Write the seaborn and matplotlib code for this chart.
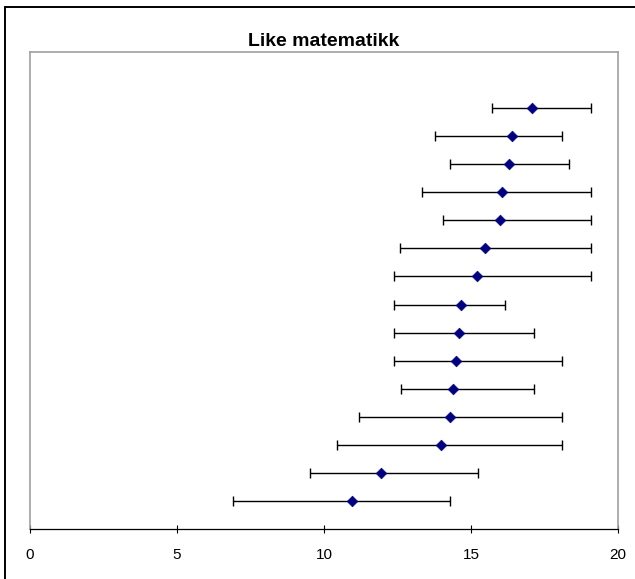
import matplotlib
matplotlib.use("Agg")
import matplotlib.pyplot as plt
import seaborn as sns
import pandas as pd
from matplotlib.lines import Line2D

sns.set_theme(style="white")
plt.rcParams['font.family'] = ['Liberation Sans', 'DejaVu Sans']
plt.rcParams['text.color'] = 'black'
plt.rcParams['xtick.color'] = 'black'

# Data (bottom to top)
positions = list(range(1, 16))
means = [10.94, 11.95, 13.97, 14.28, 14.40, 14.49, 14.58, 14.67, 15.20, 15.47, 15.99, 16.04, 16.30, 16.39, 17.06]
lower = [6.89, 9.52, 10.45, 11.20, 12.61, 12.38, 12.38, 12.38, 12.38, 12.59, 14.05, 13.32, 14.27, 13.79, 15.73]
upper = [14.27, 15.24, 18.10, 18.10, 17.13, 18.10, 17.13, 16.16, 19.07, 19.07, 19.07, 19.07, 18.33, 18.10, 19.07]
title = "Like matematikk"
xticks = [0, 5, 10, 15, 20]

df = pd.DataFrame({"pos": positions, "mean": means, "lo": lower, "hi": upper})

W, H = 635, 579
fig = plt.figure(figsize=(W/100, H/100), dpi=100)
ax = fig.add_axes([30/W, (H-529)/H, 588/W, 477/H])

err = [df["mean"] - df["lo"], df["hi"] - df["mean"]]
ax.errorbar(df["mean"], df["pos"], xerr=err, fmt="none", ecolor="black",
            elinewidth=1.0, capsize=3.5, capthick=1.0, zorder=2)
sns.scatterplot(data=df, x="mean", y="pos", marker="D", color="#000080",
                edgecolor="#000080", s=30, ax=ax, zorder=3, legend=False)

ax.set_xlim(0, 20)
ax.set_ylim(0, 17)
ax.set_xticks(xticks)
ax.set_xticklabels([str(t) for t in xticks], fontsize=11, color="black")
ax.set_yticks([])
ax.set_xlabel("")
ax.set_ylabel("")
ax.tick_params(axis="x", bottom=True, direction="inout", length=6, width=0.8,
               color="black", pad=11)
for side in ["left", "top", "right"]:
    ax.spines[side].set_color("#a0a0a0")
    ax.spines[side].set_linewidth(1.2)
ax.spines["bottom"].set_color("black")
ax.spines["bottom"].set_linewidth(0.9)

fig.text(323.5/W, 1 - 46/H, title, ha="center", va="baseline", fontsize=14,
         fontweight="bold", color="black")

# outer chart border (only left and top visible in the reference)
fig.lines.append(Line2D([4.5/W, 4.5/W], [0, 1 - 7/H], transform=fig.transFigure,
                        color="black", linewidth=1.4))
fig.lines.append(Line2D([4.5/W, 1], [1 - 7/H, 1 - 7/H], transform=fig.transFigure,
                        color="black", linewidth=1.4))

fig.savefig("out.png", dpi=100)
